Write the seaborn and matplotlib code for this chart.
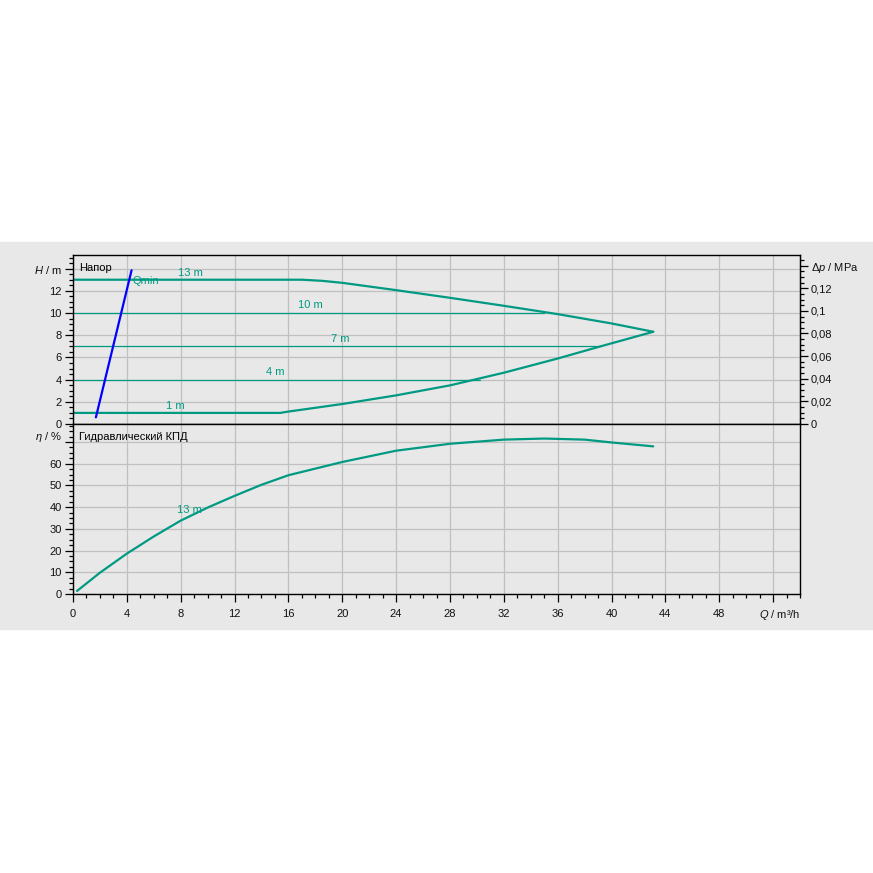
import numpy as np
import pandas as pd
import seaborn as sns
import matplotlib.pyplot as plt
from matplotlib.patches import Rectangle
from matplotlib.ticker import MultipleLocator

# Pump curves (Q in m3/h, H in m)
q_max = [0, 17.0, 18.5, 20, 24, 28, 32, 36, 40, 43.1]
h_max = [13.0, 13.0, 12.9, 12.72, 12.06, 11.37, 10.65, 9.9, 9.06, 8.31]

q_min = [0, 15.4, 16, 20, 24, 28, 32, 36, 39.2, 43.1]
h_min = [1.0, 1.0, 1.12, 1.8, 2.58, 3.48, 4.62, 5.9, 7.0, 8.31]

# constant head lines and where they end
h_const = [10, 7, 4]
q_const_end = [35.0, 39.2, 30.2]

# Qmin line
q_qmin = [1.7, 4.35]
h_qmin = [0.6, 13.85]

# hydraulic efficiency at 13 m
q_eta = [0.3, 2, 4, 6, 8, 10, 12, 14, 16, 20, 24, 28, 32, 35, 38, 40, 43.1]
eta = [1.4, 9.8, 18.6, 26.5, 33.8, 39.8, 45.2, 50.3, 54.7, 60.8, 66.0, 69.2, 71.1, 71.6, 71.1, 69.8, 68.0]

h_ticks = [0, 2, 4, 6, 8, 10, 12]
eta_ticks = [0, 10, 20, 30, 40, 50, 60]
q_ticks = [0, 4, 8, 12, 16, 20, 24, 28, 32, 36, 40, 44, 48]
dp_ticks = [0, 0.02, 0.04, 0.06, 0.08, 0.1, 0.12]

TEAL = '#009a82'
BG = '#e8e8e8'

sns.set_style('whitegrid', {'axes.facecolor': BG, 'grid.color': '#c0c0c0',
                            'axes.edgecolor': 'black'})
plt.rcParams['font.family'] = ['Liberation Sans', 'DejaVu Sans']
plt.rcParams['font.size'] = 8
plt.rcParams['mathtext.fontset'] = 'custom'
plt.rcParams['mathtext.it'] = 'Liberation Sans:italic'
plt.rcParams['mathtext.rm'] = 'Liberation Sans'

fig = plt.figure(figsize=(8.73, 8.73), dpi=100, facecolor='white')
band = Rectangle((0, (873 - 628.5) / 873), 1, (628.5 - 242) / 873,
                 transform=fig.transFigure, color=BG, zorder=-10)
fig.patches.append(band)

left, width = 73 / 873, 727 / 873
ax1 = fig.add_axes([left, (873 - 424) / 873, width, 168.7 / 873])
ax2 = fig.add_axes([left, (873 - 594) / 873, width, 170 / 873])

for ax in (ax1, ax2):
    ax.set_xlim(0, 54)
    ax.grid(True, linewidth=0.9)
    for s in ax.spines.values():
        s.set_color('black')
        s.set_linewidth(1.0)
    ax.tick_params(which='both', left=True, bottom=True)
    ax.tick_params(which='major', direction='out', length=6, width=0.9,
                   color='black', labelcolor='#111111', labelsize=8, pad=2)
    ax.tick_params(which='minor', direction='out', length=3.2, width=0.9, color='black')
    ax.xaxis.set_minor_locator(MultipleLocator(1))
    ax.set_xticks(q_ticks + [52])
    ax.set_xlabel('')
    ax.set_ylabel('')

# ---- top panel: head ----
sns.lineplot(x=q_max, y=h_max, ax=ax1, color=TEAL, linewidth=1.6, sort=False)
sns.lineplot(x=q_min, y=h_min, ax=ax1, color=TEAL, linewidth=1.6, sort=False)
for h, qe in zip(h_const, q_const_end):
    sns.lineplot(x=[0, qe], y=[h, h], ax=ax1, color=TEAL, linewidth=0.9)
sns.lineplot(x=q_qmin, y=h_qmin, ax=ax1, color='#0000ff', linewidth=1.6, sort=False)

ax1.set_ylim(0, 15.2)
ax1.set_yticks(h_ticks + [14])
ax1.set_yticklabels([str(t) for t in h_ticks] + ['$H$ / m'])
ax1.yaxis.set_minor_locator(MultipleLocator(0.5))
ax1.tick_params(axis='x', which='both', bottom=False, labelbottom=False)

ax1.text(0.45, 14.05, 'Напор', va='center', ha='left', color='black', fontsize=8)
ax1.text(4.45, 12.87, 'Qmin', va='center', ha='left', color=TEAL, fontsize=8)
ax1.text(7.77, 13.65, '13 m', va='center', ha='left', color=TEAL, fontsize=8)
ax1.text(16.7, 10.7, '10 m', va='center', ha='left', color=TEAL, fontsize=8)
ax1.text(19.2, 7.65, '7 m', va='center', ha='left', color=TEAL, fontsize=8)
ax1.text(14.35, 4.65, '4 m', va='center', ha='left', color=TEAL, fontsize=8)
ax1.text(6.9, 1.62, '1 m', va='center', ha='left', color=TEAL, fontsize=8)

# right axis in MPa
sec = ax1.secondary_yaxis('right', functions=(lambda h: h * 0.00981, lambda p: p / 0.00981))
sec.set_yticks(dp_ticks + [0.14])
sec.set_yticklabels([f'{t:g}'.replace('.', ',') for t in dp_ticks] + ['$\\Delta p$ / MPa'])
sec.yaxis.set_minor_locator(MultipleLocator(0.005))
sec.tick_params(which='both', right=True)
sec.tick_params(which='major', direction='out', length=6, width=0.9, color='black',
                labelcolor='#111111', labelsize=8, pad=2)
sec.tick_params(which='minor', direction='out', length=3.2, width=0.9, color='black')
sec.spines['right'].set_color('black')

# ---- bottom panel: efficiency ----
sns.lineplot(x=q_eta, y=eta, ax=ax2, color=TEAL, linewidth=1.6, sort=False)
ax2.set_ylim(0, 78.3)
ax2.set_yticks(eta_ticks + [70])
ax2.set_yticklabels([str(t) for t in eta_ticks] + [''])
ax2.yaxis.set_minor_locator(MultipleLocator(2.5))
ax2.set_xticklabels([str(t) for t in q_ticks] + [''])
ax2.tick_params(axis='x', which='major', pad=5)
ax2.text(0.45, 72.2, 'Гидравлический КПД', va='center', ha='left', color='black', fontsize=8)
ax2.text(7.7, 38.8, '13 m', va='center', ha='left', color=TEAL, fontsize=8)
ax2.annotate('$\\eta$ / %', xy=(0, 72.2), xycoords='data', xytext=(-7.6, 0),
             textcoords='offset points', ha='right', va='center', fontsize=8, color='#111111')
ax2.annotate('$Q$ / m³/h', xy=(54, 0), xycoords=('data', 'axes fraction'),
             xytext=(0, -10.2), textcoords='offset points', ha='right', va='top',
             fontsize=8, color='#111111')

fig.savefig('out.png', dpi=100, facecolor='white')
